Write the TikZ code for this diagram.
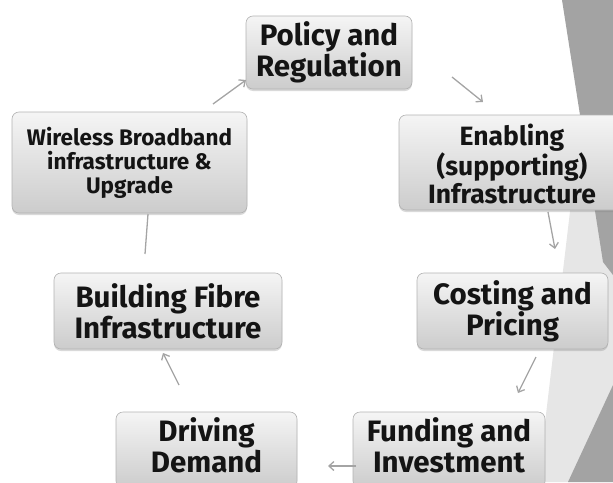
\documentclass[tikz,border=0pt]{standalone}
\usepackage{fontspec}
\setmainfont{Fira Sans}
\usetikzlibrary{arrows.meta,shadows}
\definecolor{arrgray}{HTML}{A4A4A4}
\definecolor{panel}{HTML}{E6E6E6}
\definecolor{facet}{HTML}{A3A3A3}
\tikzset{
  box/.style={rounded corners=7pt, draw=gray!60, line width=0.6pt,
    top color=gray!8, bottom color=gray!40, text=black!92, align=center,
    inner sep=0pt,
    drop shadow={shadow xshift=0pt, shadow yshift=-2pt, opacity=0.3}},
  big/.style={font=\fontsize{29.5}{31}\selectfont\bfseries},
  mid/.style={font=\fontsize{26.5}{28}\selectfont\bfseries},
  small/.style={font=\fontsize{22.5}{24}\selectfont\bfseries},
  label/.style={align=center, text=black!92, inner sep=0pt, text depth=0pt},
  arr/.style={draw=arrgray, line width=1.3pt, -{Straight Barb[length=5pt,width=9pt]}},
  plain/.style={draw=arrgray, line width=1.3pt}
}
\begin{document}
\begin{tikzpicture}[x=1pt,y=-1pt]
\useasboundingbox (0,0) rectangle (613,482);
\clip (0,0) rectangle (613,482);
% background facets
\fill[panel] (595,0) -- (613,0) -- (613,482) -- (538,482) -- cycle;
\fill[facet] (562,0) -- (613,0) -- (613,275) -- (603,262) -- cycle;
\fill[facet] (613,385) -- (613,482) -- (568,482) -- cycle;
% boxes
\node[box,big, minimum width=166pt, minimum height=73pt] (policy) at (329,52.5) {Policy and\\Regulation};
\node[box,small, minimum width=235pt, minimum height=101pt] (wireless) at (129.5,162.5) {Wireless Broadband\\infrastructure \&\\Upgrade};
\node[box,mid, minimum width=244pt, minimum height=95pt] (enabling) at (521,162.5) {};
\node[mid, align=center, text=black!92] (enablingtext) at (512,164) {Enabling\\(supporting)\\Infrastructure};
\node[box,big, minimum width=191pt, minimum height=76pt] (costing) at (512.5,311) {Costing and\\Pricing};
\node[box,big, minimum width=228pt, minimum height=76pt] (building) at (168,311) {Building Fibre\\Infrastructure};
\node[box, minimum width=192pt, minimum height=76pt] (funding) at (449,450) {};
\node[box, minimum width=181pt, minimum height=76pt] (driving) at (206.5,450) {};
\node[label,big, anchor=south] (fundingtext) at (449,473) {Funding and\\Investment};
\node[label,big, anchor=south] (drivingtext) at (206.5,473) {Driving\\Demand};
% connector end points
\coordinate (pe1) at (452,77);  \coordinate (pe2) at (483,102);
\coordinate (ec1) at (548,212); \coordinate (ec2) at (555,249);
\coordinate (cf1) at (536,357); \coordinate (cf2) at (518,393);
\coordinate (fd1) at (356,466); \coordinate (fd2) at (328,466);
\coordinate (db1) at (179,385); \coordinate (db2) at (163,353);
\coordinate (bw1) at (145,254); \coordinate (bw2) at (148,214);
\coordinate (wp1) at (213,104); \coordinate (wp2) at (246,80);
\draw[arr] (pe1) -- (pe2);
\draw[arr] (ec1) -- (ec2);
\draw[arr] (cf1) -- (cf2);
\draw[arr] (fd1) -- (fd2);
\draw[arr] (db1) -- (db2);
\draw[plain] (bw1) -- (bw2);
\draw[arr] (wp1) -- (wp2);
\end{tikzpicture}
\end{document}
